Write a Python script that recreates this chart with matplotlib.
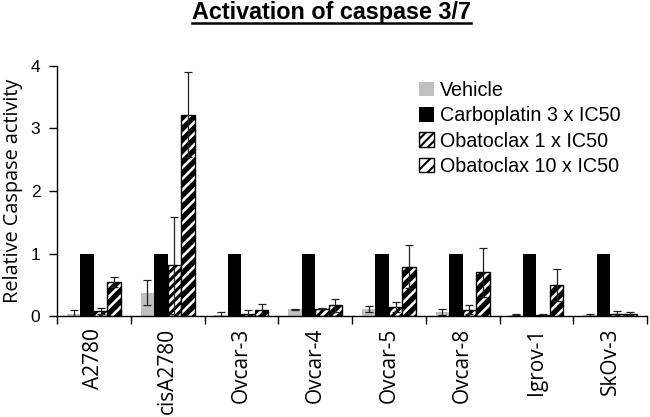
import matplotlib
matplotlib.use("Agg")
import matplotlib.pyplot as plt
import numpy as np

# cell lines
cell_lines = ["A2780", "cisA2780", "Ovcar-3", "Ovcar-4", "Ovcar-5", "Ovcar-8", "Igrov-1", "SkOv-3"]
series_names = ["Vehicle", "Carboplatin 3 x IC50", "Obatoclax 1 x IC50", "Obatoclax 10 x IC50"]

vehicle = [0.04, 0.37, 0.02, 0.11, 0.11, 0.06, 0.02, 0.02]
vehicle_err = [0.05, 0.20, 0.04, 0.01, 0.05, 0.05, 0.01, 0.02]
carboplatin = [1, 1, 1, 1, 1, 1, 1, 1]
oba1 = [0.08, 0.81, 0.04, 0.12, 0.14, 0.10, 0.02, 0.04]
oba1_err = [0.05, 0.78, 0.05, 0.01, 0.08, 0.07, 0.01, 0.04]
oba10 = [0.55, 3.22, 0.09, 0.17, 0.79, 0.70, 0.50, 0.04]
oba10_err = [0.08, 0.68, 0.11, 0.10, 0.34, 0.39, 0.26, 0.02]

yticks = [0, 1, 2, 3, 4]

fig = plt.figure(figsize=(6.5, 4.17), dpi=100)
ax = fig.add_axes([57 / 650, 101 / 417, 590 / 650, 250 / 417])

x = np.arange(len(cell_lines))
w = 0.183
err_kw = dict(ecolor="#222222", elinewidth=0.9, capsize=3, capthick=0.9)

b1 = ax.bar(x - 1.5 * w, vehicle, w, yerr=vehicle_err, color="#c0c0c0",
            label=series_names[0], error_kw=err_kw)
b2 = ax.bar(x - 0.5 * w, carboplatin, w, color="black", label=series_names[1])
b3 = ax.bar(x + 0.5 * w, oba1, w, yerr=oba1_err, color="white", edgecolor="black",
            linewidth=1.0, hatch="////", label=series_names[2], error_kw=err_kw)
b4 = ax.bar(x + 1.5 * w, oba10, w, yerr=oba10_err, color="white", edgecolor="black",
            linewidth=1.0, hatch="///", label=series_names[3], error_kw=err_kw)
for p in b3:
    if hasattr(p, "set_hatch_linewidth"):
        p.set_hatch_linewidth(2.2)
for p in b4:
    if hasattr(p, "set_hatch_linewidth"):
        p.set_hatch_linewidth(3.8)

ax.set_xlim(-0.5, len(cell_lines) - 0.5)
ax.set_ylim(0, 4)
ax.set_yticks(yticks)
ax.set_yticklabels([str(t) for t in yticks], fontfamily="Liberation Sans", fontsize=12.5)
ax.tick_params(axis="y", direction="out", length=6, width=1, pad=6)

# category labels between the separator ticks
ax.set_xticks(np.arange(len(cell_lines) + 1) - 0.5)
ax.set_xticklabels([])
ax.tick_params(axis="x", direction="out", length=6, width=1)
for i, name in enumerate(cell_lines):
    ax.text(i, -0.19, name, rotation=90, ha="center", va="top",
            fontfamily="Open Sans", fontsize=15, transform=ax.transData)

ax.spines["top"].set_visible(False)
ax.spines["right"].set_visible(False)
ax.spines["left"].set_linewidth(1)
ax.spines["bottom"].set_linewidth(1)

ax.set_ylabel("Relative Caspase activity", fontfamily="Open Sans", fontsize=14.3)
ax.yaxis.set_label_coords(-0.058, 0.5)

leg = ax.legend(loc="upper left", bbox_to_anchor=(0.601, 0.972), frameon=False,
                prop={"family": "Liberation Sans", "size": 14.2},
                handlelength=0.75, handleheight=0.75, handletextpad=0.3,
                labelspacing=0.32, borderaxespad=0)
for h in leg.legend_handles:
    if hasattr(h, "set_hatch_linewidth") and h.get_hatch():
        h.set_hatch_linewidth(1.5)

title = fig.text(331 / 650, 0.97, "Activation of caspase 3/7", ha="center", va="center",
                 fontfamily="Liberation Sans", fontweight="bold", fontsize=16.8)
fig.canvas.draw()
bb = title.get_window_extent().transformed(fig.transFigure.inverted())
fig.add_artist(plt.Line2D([bb.x0, bb.x1], [bb.y0 + 0.003, bb.y0 + 0.003],
                          color="black", linewidth=1.8, transform=fig.transFigure))

fig.savefig("out.png", dpi=100)
